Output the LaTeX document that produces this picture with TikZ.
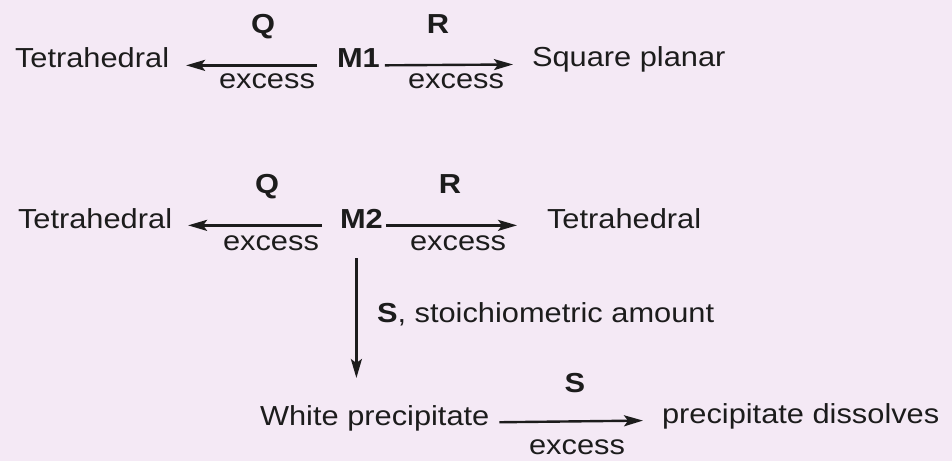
\documentclass[tikz,border=0pt]{standalone}
\usepackage{fontspec}
\setmainfont{Liberation Sans}[FakeStretch=1.12]
\usetikzlibrary{arrows.meta}
\definecolor{bg}{RGB}{244,233,245}
\definecolor{ink}{RGB}{28,28,28}
\begin{document}
\begin{tikzpicture}[x=1pt,y=-1pt,
  txt/.style={inner sep=0pt, outer sep=0pt, text=ink, font=\fontsize{27.5}{33}\selectfont},
  btxt/.style={txt, font=\fontsize{27.5}{33}\selectfont\bfseries},
  arr/.style={draw=ink, line width=2.4pt, -{Stealth[length=19pt,width=11pt,inset=4pt]}},
]
\path[use as bounding box, fill=bg] (0,0) rectangle (952,461);

% Row 1
\node[txt, anchor=base west] (T1) at (15,67) {Tetrahedral};
\node[btxt, anchor=base west] (M1) at (337,67) {M1};
\node[txt, anchor=base west] (SP) at (532,66) {Square planar};
\node[btxt, anchor=base] (Q1) at (263,33) {Q};
\node[txt, anchor=base] (E1L) at (267,88) {excess};
\node[btxt, anchor=base] (R1) at (438,33) {R};
\node[txt, anchor=base] (E1R) at (456,88) {excess};
\draw[arr, shorten <=20pt, shorten >=17pt] ([yshift=-1pt]M1.mid west) -- ([yshift=-1pt]T1.mid east);
\draw[arr, shorten <=5pt, shorten >=19pt] ([yshift=-1pt]M1.mid east) -- ([yshift=-1pt]SP.mid west);

% Row 2
\node[txt, anchor=base west] (T2) at (18,228) {Tetrahedral};
\node[btxt, anchor=base west] (M2) at (340,228) {M2};
\node[txt, anchor=base west] (T3) at (547,228) {Tetrahedral};
\node[btxt, anchor=base] (Q2) at (267,193) {Q};
\node[txt, anchor=base] (E2L) at (271,250) {excess};
\node[btxt, anchor=base] (R2) at (450,193) {R};
\node[txt, anchor=base] (E2R) at (458,250) {excess};
\draw[arr, shorten <=18pt, shorten >=16pt] (M2.mid west) -- (T2.mid east);
\draw[arr, shorten <=3pt, shorten >=30pt] (M2.mid east) -- (T3.mid west);

% Vertical
\node[txt, anchor=base west] (W) at (260,425) {White precipitate};
\draw[arr] (M2.base) ++(-5,30) -- ++(0,120);
\node[txt, anchor=base west] (SL) at (377,322) {\textbf{S}, stoichiometric amount};

% Bottom
\node[txt, anchor=base west] (PD) at (662,423) {precipitate dissolves};
\node[btxt, anchor=base] (S2) at (575,392) {S};
\node[txt, anchor=base] (E3) at (577,454) {excess};
\draw[arr, shorten <=10pt, shorten >=19pt] (W.mid east) -- (PD.mid west);
\end{tikzpicture}
\end{document}
